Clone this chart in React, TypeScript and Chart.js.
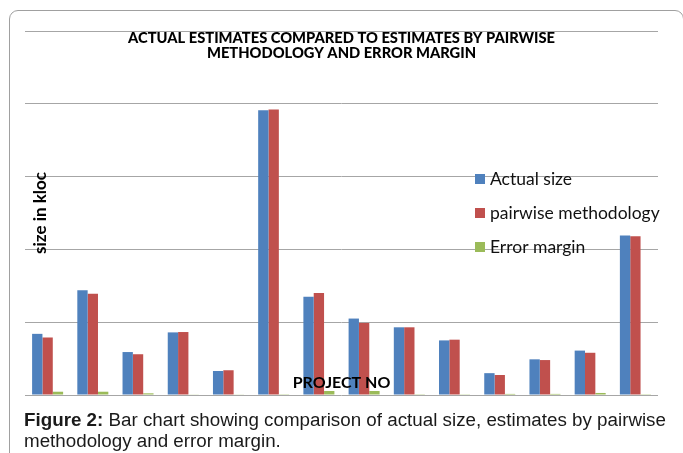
import React, { useEffect, useRef } from "react";
import { Chart, registerables } from "chart.js";

Chart.register(...registerables);

const categories = ["1", "2", "3", "4", "5", "6", "7", "8", "9", "10", "11", "12", "13", "14"];
const actualSize = [8.4, 14.4, 5.9, 8.6, 3.3, 39.1, 13.5, 10.5, 9.3, 7.5, 3.0, 4.9, 6.1, 21.9];
const pairwiseMethodology = [7.9, 13.9, 5.6, 8.65, 3.4, 39.2, 14.0, 9.9, 9.3, 7.6, 2.75, 4.8, 5.8, 21.8];
const errorMargin = [0.45, 0.45, 0.23, 0.05, 0.05, 0.03, 0.55, 0.55, 0.03, 0.1, 0.15, 0.15, 0.28, 0.03];
const seriesLabels = ["Actual size", "pairwise methodology", "Error margin"];
const seriesColors = ["#4F81BD", "#C0504D", "#9BBB59"];
const titleLines = ["ACTUAL ESTIMATES COMPARED TO ESTIMATES BY PAIRWISE", "METHODOLOGY AND ERROR MARGIN"];
const yAxisTitle = "size in kloc";
const xAxisTitle = "PROJECT NO";
const yMax = 50;
const yStep = 10;

const insideLegend = {
  id: "insideLegend",
  afterDatasetsDraw(chart: any) {
    const { ctx, chartArea } = chart;
    ctx.save();
    ctx.font = "17.5px Lato";
    ctx.textBaseline = "middle";
    ctx.textAlign = "left";
    chart.data.datasets.forEach((ds: any, i: number) => {
      const x = chartArea.left + 450;
      const y = chartArea.top + 148 + i * 34;
      ctx.fillStyle = ds.backgroundColor;
      ctx.fillRect(x, y - 5, 10, 10);
      ctx.fillStyle = "#111";
      ctx.fillText(ds.label, x + 15, y);
    });
    ctx.restore();
  },
};

export default function App() {
  const canvasRef = useRef<HTMLCanvasElement | null>(null);

  useEffect(() => {
    if (!canvasRef.current) return;
    const series = [actualSize, pairwiseMethodology, errorMargin];
    const xFont = 16;
    const yFont = 17;
    const xLh = xFont * 1.2;
    const yLh = yFont * 1.2;
    const chart = new Chart(canvasRef.current, {
      type: "bar",
      data: {
        labels: categories,
        datasets: series.map((values, i) => ({
          label: seriesLabels[i],
          data: values,
          backgroundColor: seriesColors[i],
          borderWidth: 0,
          barPercentage: 1,
          categoryPercentage: 0.686,
        })),
      },
      options: {
        animation: false,
        responsive: true,
        maintainAspectRatio: false,
        layout: { padding: { left: 25, right: 25, top: 31, bottom: 15 } },
        plugins: {
          legend: { display: false },
          tooltip: { enabled: false },
          title: {
            display: true,
            text: titleLines,
            color: "#000",
            font: { family: "Lato", size: 14.7, weight: "900", lineHeight: 1.0 },
            padding: { top: 0, bottom: -29.4 },
          },
        },
        scales: {
          x: {
            grid: { display: false, drawTicks: false, z: 1 },
            border: { display: false },
            ticks: { display: false },
            title: {
              display: true,
              text: xAxisTitle,
              color: "#000",
              font: { family: "Lato", size: xFont, weight: "bold", lineHeight: 1.2 },
              padding: { top: -(xLh + 12.5 - xLh / 2), bottom: 12.5 - xLh / 2 },
            },
          },
          y: {
            min: 0,
            max: yMax,
            ticks: { display: false, stepSize: yStep },
            grid: { color: "#a6a6a6", lineWidth: 1, drawTicks: false },
            border: { display: false },
            title: {
              display: true,
              text: yAxisTitle,
              color: "#000",
              font: { family: "Lato", size: yFont, weight: "bold", lineHeight: 1.2 },
              padding: { top: 16 - yLh / 2, bottom: -(yLh + 16 - yLh / 2) },
            },
          },
        },
      },
      plugins: [insideLegend],
    });
    return () => chart.destroy();
  }, []);

  return (
    <div
      style={{
        position: "fixed",
        left: 0,
        top: 0,
        width: 683,
        height: 453,
        overflow: "hidden",
        background: "#fff",
      }}
    >
      <div
        style={{
          position: "absolute",
          left: 9,
          top: 10,
          width: 673,
          height: 470,
          border: "1px solid #a0a0a0",
          borderRadius: 9,
        }}
      />
      <div style={{ position: "absolute", left: 0, top: 0, width: 683, height: 410 }}>
        <canvas ref={canvasRef} />
      </div>
      <div
        style={{
          position: "absolute",
          left: 24,
          top: 409,
          fontFamily: "'Liberation Sans', Arial, sans-serif",
          fontSize: 18.8,
          lineHeight: "21px",
          color: "#1a1a1a",
          whiteSpace: "nowrap",
        }}
      >
        <b>Figure 2:</b> Bar chart showing comparison of actual size, estimates by pairwise
        <br />
        methodology and error margin.
      </div>
    </div>
  );
}
